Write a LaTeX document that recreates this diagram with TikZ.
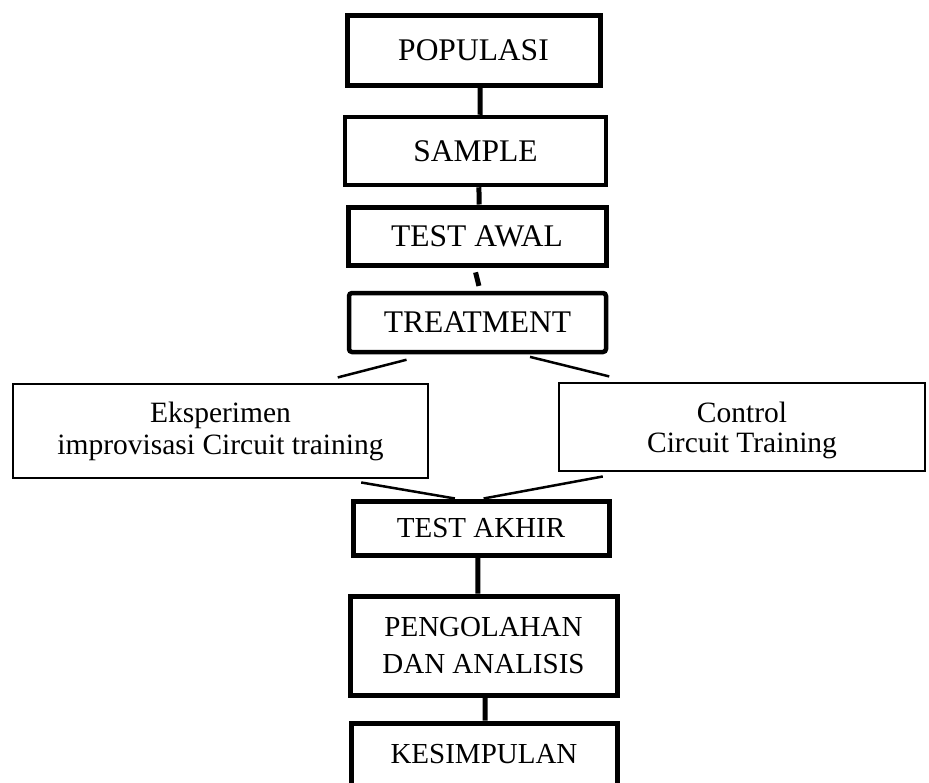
\documentclass[tikz,border=0pt]{standalone}
\usepackage{fontspec}
\setmainfont{Liberation Serif}
\definecolor{Black}{rgb}{0.0,0.0,0.0}
\usepackage{tikz}
\usetikzlibrary{calc}

\begin{document}
\begin{tikzpicture}[x=1pt, y=-1pt,
    mainbox/.style={draw=Black, line width=5pt, inner sep=0pt, align=center},
    sidebox/.style={draw=Black, line width=2.2pt, inner sep=0pt, align=center},
    bigtext/.style={font=\fontsize{31.5}{37}\selectfont},
    smalltext/.style={font=\fontsize{29}{37}\selectfont},
    vline/.style={draw=Black, line width=5pt},
    sline/.style={draw=Black, line width=2.5pt}]

    \useasboundingbox (0,0) rectangle (929,782);  % page size

    % upper boxes
    \node[mainbox, bigtext, minimum width=253pt, minimum height=70pt] (pop) at (473.5,50) {POPULASI};
    \node[mainbox, bigtext, line width=4.5pt, minimum width=261pt, minimum height=68pt] (samp) at (475.5,151) {SAMPLE};
    \node[mainbox, bigtext, minimum width=258pt, minimum height=58pt] (awal) at (477,236) {TEST AWAL};
    \node[mainbox, bigtext, line width=4.5pt, rounded corners=3pt, minimum width=257pt, minimum height=59pt] (treat) at (477.5,322.5) {TREATMENT};

    % two groups
    \node[sidebox, font=\fontsize{29.5}{32}\selectfont, minimum width=415pt, minimum height=94pt] (eksp) at (220.5,431) {Eksperimen\\improvisasi Circuit training};
    \node[sidebox, font=\fontsize{29.5}{30.5}\selectfont, minimum width=366pt, minimum height=88pt, text height=58pt] (ctrl) at (742,427) {Control\\Circuit Training};

    % lower boxes
    \node[mainbox, smalltext, minimum width=256pt, minimum height=54pt] (akhir) at (481,528) {TEST AKHIR};
    \node[mainbox, smalltext, minimum width=267pt, minimum height=99pt] (olah) at (483.5,645.5) {PENGOLAHAN\\DAN ANALISIS};
    \node[mainbox, smalltext, minimum width=266pt, minimum height=62pt] (simp) at (484,754) {KESIMPULAN};

    % vertical links
    \draw[vline] ($(pop.south west)!.526!(pop.south east)$) -- ($(samp.north west)!.517!(samp.north east)$);
    \draw[vline] ($(samp.south west)!.513!(samp.south east)$) -- ($(awal.north west)!.508!(awal.north east)$);
    \draw[vline, shorten <=5pt, shorten >=5pt] ($(awal.south west)!.49!(awal.south east)$) -- ($(treat.north west)!.51!(treat.north east)$);
    \draw[vline] ($(akhir.south west)!.488!(akhir.south east)$) -- ($(olah.north west)!.479!(olah.north east)$);
    \draw[vline] ($(olah.south west)!.506!(olah.south east)$) -- ($(simp.north west)!.504!(simp.north east)$);

    % slanted links
    \draw[sline, shorten <=22pt, shorten >=22pt] ($(treat.south west)!.31!(treat.south east)$) -- ($(eksp.north west)!.73!(eksp.north east)$);
    \draw[sline, shorten <=11pt, shorten >=23pt] ($(treat.south west)!.66!(treat.south east)$) -- ($(ctrl.north west)!.2!(ctrl.north east)$);
    \draw[sline, shorten <=20pt] ($(eksp.south west)!.79!(eksp.south east)$) -- ($(akhir.north west)!.4!(akhir.north east)$);
    \draw[sline, shorten <=24pt] ($(ctrl.south west)!.186!(ctrl.south east)$) -- ($(akhir.north west)!.51!(akhir.north east)$);

\end{tikzpicture}
\end{document}
